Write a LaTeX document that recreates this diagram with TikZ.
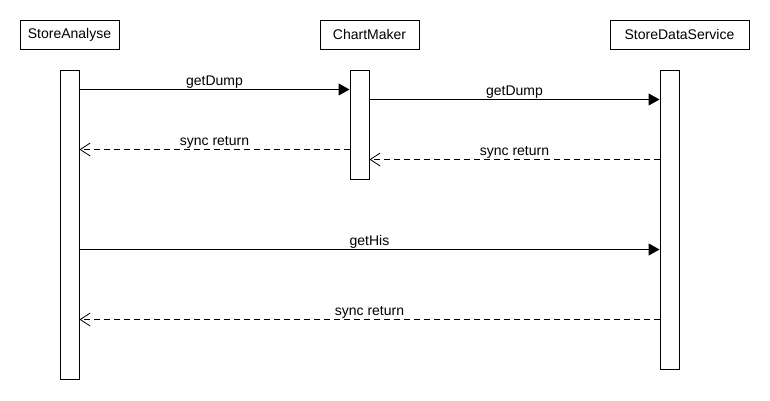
\documentclass[tikz,border=0pt]{standalone}
\usepackage{fontspec}
\setmainfont{Liberation Sans}
\usetikzlibrary{arrows.meta}
\begin{document}
\begin{tikzpicture}[x=1pt,y=-1pt,
  every node/.style={font=\fontsize{14}{16}\selectfont},
  objbox/.style={draw, line width=1pt, rectangle, inner sep=0, minimum height=29pt},
  actbox/.style={draw, line width=1pt, rectangle, inner sep=0, minimum width=19pt, fill=white},
  msg/.style={line width=1pt, -{Triangle[length=11pt,width=12pt]}},
  ret/.style={line width=0.8pt, dash pattern=on 6pt off 4pt, -{Straight Barb[length=10pt,width=13pt,line width=0.8pt]}},
  lbl/.style={midway, anchor=base, yshift=4pt, inner sep=0}]
\useasboundingbox[fill=white] (0,0) rectangle (770,400);
% objects
\node[objbox, minimum width=99pt] (o1) at (69.5,34.5) {StoreAnalyse};
\node[objbox, minimum width=99pt] (o2) at (369.5,34.5) {ChartMaker};
\node[objbox, minimum width=139pt] (o3) at (679.5,34.5) {StoreDataService};
% activations
\node[actbox, minimum height=309pt] (a1) at (69.5,224.5) {};
\node[actbox, minimum height=109pt] (a2) at (359.5,124.5) {};
\node[actbox, minimum height=299pt] (a3) at (669.5,219.5) {};
% messages
\draw[msg] ([yshift=-20pt]a1.north east) -- ([yshift=-20pt]a2.north west) node[lbl] {getDump};
\draw[msg] ([yshift=-30pt]a2.north east) -- ([yshift=-30pt]a3.north west) node[lbl] {getDump};
\draw[ret] ([yshift=-80pt]a2.north west) -- ([yshift=-80pt]a1.north east) node[lbl] {sync return};
\draw[ret] ([yshift=-90pt]a3.north west) -- ([yshift=-90pt]a2.north east) node[lbl] {sync return};
\draw[msg] ([yshift=-180pt]a1.north east) -- ([yshift=-180pt]a3.north west) node[lbl] {getHis};
\draw[ret] ([yshift=-250pt]a3.north west) -- ([yshift=-250pt]a1.north east) node[lbl] {sync return};
\end{tikzpicture}
\end{document}
